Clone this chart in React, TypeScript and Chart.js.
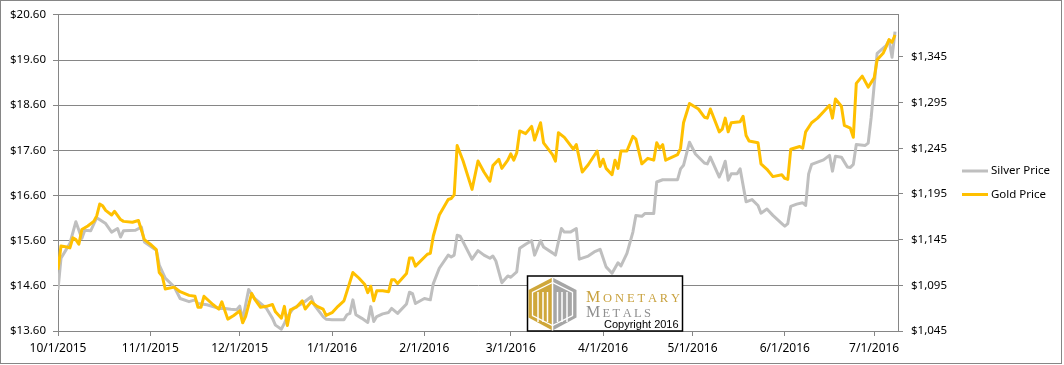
import { useEffect, useRef } from "react";
import { Chart, registerables } from "chart.js";

Chart.register(...registerables);

// Day offsets are counted from 10/1/2015
const monthTickDays = [0, 31, 61, 92, 123, 152, 183, 213, 244, 274];
const monthTickLabels = [
  "10/1/2015", "11/1/2015", "12/1/2015", "1/1/2016", "2/1/2016",
  "3/1/2016", "4/1/2016", "5/1/2016", "6/1/2016", "7/1/2016",
];
const silverTicks = [13.6, 14.6, 15.6, 16.6, 17.6, 18.6, 19.6, 20.6];
const goldTicks = [1045, 1095, 1145, 1195, 1245, 1295, 1345];

const silverDays = [
  0, 1, 4, 6, 8, 9, 11, 13, 16, 18, 20, 21, 22, 26, 28, 29, 33, 34, 36, 39, 41, 44, 46, 47, 50,
  54, 56, 58, 60, 61, 62, 64, 66, 68, 70, 72, 73, 75, 76, 77, 79, 82, 85, 86, 89, 90, 92, 96, 97,
  98, 99, 100, 102, 104, 105, 106, 107, 109, 111, 112, 114, 117, 118, 119, 120, 123, 125, 126,
  128, 131, 132, 133, 134, 135, 139, 141, 143, 145, 146, 147, 149, 151, 152, 154, 155, 157, 159,
  160, 162, 163, 166, 167, 169, 170, 172, 174, 175, 178, 180, 182, 184, 186, 188, 189, 191, 193,
  194, 196, 197, 200, 201, 203, 208, 209, 210, 212, 214, 217, 218, 219, 222, 223, 224, 225, 226,
  228, 229, 231, 233, 235, 236, 238, 240, 243, 244, 245, 246, 248, 250, 251, 252, 253, 255, 257,
  259, 260, 261, 263, 265, 266, 267, 268, 271, 272, 273, 275, 278, 279, 280, 281,
];
const silverPrices = [
  14.51, 15.21, 15.54, 16.02, 15.65, 15.83, 15.82, 16.11, 15.98, 15.79, 15.87, 15.68, 15.82, 15.83,
  15.9, 15.57, 15.39, 15.06, 14.77, 14.58, 14.32, 14.25, 14.29, 14.21, 14.18, 14.1, 14.1, 14.08,
  14.07, 14.15, 13.85, 14.52, 14.32, 14.21, 14.1, 13.88, 13.73, 13.64, 13.77, 13.92, 14.1, 14.21,
  14.36, 14.18, 13.92, 13.86, 13.85, 13.85, 13.96, 13.99, 14.29, 13.96, 13.88, 13.79, 14.14, 13.81,
  13.92, 13.98, 14.01, 14.1, 13.99, 14.2, 14.46, 14.43, 14.21, 14.32, 14.29, 14.65, 14.99, 15.28,
  15.24, 15.28, 15.72, 15.7, 15.19, 15.38, 15.28, 15.21, 15.26, 15.15, 14.67, 14.82, 14.79, 14.91,
  15.43, 15.52, 15.6, 15.28, 15.6, 15.46, 15.33, 15.28, 15.87, 15.79, 15.79, 15.87, 15.19, 15.26,
  15.35, 15.41, 15.02, 14.88, 15.11, 15.04, 15.32, 15.79, 16.16, 16.14, 16.2, 16.2, 16.9, 16.95,
  16.95, 17.19, 17.27, 17.78, 17.52, 17.32, 17.3, 17.45, 17.01, 17.16, 17.36, 16.94, 17.08, 17.08,
  17.19, 16.46, 16.51, 16.38, 16.21, 16.3, 16.16, 15.98, 15.92, 15.98, 16.36, 16.41, 16.44, 16.38,
  17.08, 17.29, 17.34, 17.39, 17.49, 17.14, 17.47, 17.45, 17.23, 17.22, 17.29, 17.73, 17.71, 17.76,
  18.33, 19.75, 19.92, 20.04, 19.66, 20.23,
];

const goldDays = [
  0, 1, 3, 4, 5, 6, 7, 8, 10, 12, 13, 14, 15, 16, 18, 19, 21, 22, 25, 27, 29, 31, 33, 34, 35, 36,
  39, 41, 44, 46, 47, 48, 49, 52, 54, 55, 57, 59, 61, 62, 63, 65, 66, 68, 70, 72, 73, 75, 76, 77,
  78, 80, 82, 83, 85, 87, 89, 90, 92, 94, 96, 99, 101, 103, 104, 105, 106, 107, 109, 111, 112, 113,
  114, 117, 118, 119, 120, 124, 125, 126, 128, 131, 132, 133, 134, 136, 139, 141, 143, 145, 146,
  148, 149, 151, 152, 153, 154, 155, 157, 159, 160, 162, 163, 166, 167, 168, 170, 173, 174, 176,
  178, 181, 182, 183, 184, 186, 187, 188, 189, 191, 193, 194, 196, 198, 200, 201, 202, 203, 204,
  208, 209, 210, 212, 215, 217, 218, 219, 222, 223, 224, 225, 226, 229, 230, 231, 232, 235, 236,
  238, 240, 243, 244, 245, 246, 249, 250, 251, 253, 255, 257, 259, 260, 261, 263, 264, 266, 267,
  268, 270, 272, 274, 275, 277, 278, 279, 280, 281,
];
const goldPrices = [
  1112, 1138, 1137, 1136, 1147, 1145, 1140, 1156, 1160, 1165, 1171, 1184, 1182, 1177, 1172, 1176,
  1167, 1165, 1164, 1166, 1145, 1140, 1134, 1109, 1105, 1091, 1093, 1088, 1084, 1083, 1071, 1071,
  1083, 1074, 1069, 1077, 1058, 1062, 1067, 1054, 1061, 1086, 1080, 1071, 1072, 1074, 1066, 1059,
  1072, 1051, 1068, 1071, 1078, 1069, 1077, 1072, 1069, 1062, 1065, 1072, 1078, 1109, 1103, 1096,
  1087, 1094, 1078, 1089, 1089, 1088, 1101, 1101, 1097, 1108, 1125, 1125, 1116, 1129, 1130, 1149,
  1172, 1189, 1190, 1194, 1248, 1231, 1200, 1231, 1219, 1209, 1226, 1233, 1223, 1232, 1239, 1232,
  1240, 1264, 1261, 1269, 1254, 1273, 1251, 1238, 1231, 1262, 1257, 1244, 1249, 1219, 1227, 1242,
  1225, 1233, 1223, 1216, 1232, 1223, 1242, 1242, 1258, 1255, 1228, 1234, 1232, 1251, 1245, 1249,
  1232, 1238, 1245, 1273, 1294, 1288, 1279, 1278, 1288, 1263, 1266, 1278, 1263, 1273, 1274, 1280,
  1259, 1253, 1251, 1228, 1222, 1214, 1216, 1212, 1211, 1244, 1247, 1245, 1263, 1273, 1278, 1285,
  1292, 1278, 1299, 1291, 1270, 1267, 1257, 1316, 1324, 1312, 1322, 1342, 1349, 1356, 1364, 1361,
  1369,
];

const seriesNames = ["Silver Price", "Gold Price"];
const seriesColors = ["#BFBFBF", "#FFC000"];

const AXIS_GRAY = "#868686";
const FONT = "'Noto Sans', 'DejaVu Sans', sans-serif";

function spacedText(
  ctx: CanvasRenderingContext2D,
  parts: { text: string; font: string }[],
  x: number,
  y: number,
  targetWidth: number
) {
  const chars: { ch: string; font: string; w: number }[] = [];
  parts.forEach((p) => {
    ctx.font = p.font;
    for (const ch of p.text) chars.push({ ch, font: p.font, w: ctx.measureText(ch).width });
  });
  const total = chars.reduce((s, c) => s + c.w, 0);
  const gap = (targetWidth - total) / (chars.length - 1);
  let cx = x;
  chars.forEach((c) => {
    ctx.font = c.font;
    ctx.fillText(c.ch, cx, y);
    cx += c.w + gap;
  });
}

const decorPlugin = {
  id: "decor",
  beforeDraw(chart: any) {
    const ctx: CanvasRenderingContext2D = chart.ctx;
    ctx.save();
    ctx.fillStyle = "#ffffff";
    ctx.fillRect(0, 0, chart.width, chart.height);
    ctx.strokeStyle = AXIS_GRAY;
    ctx.lineWidth = 1;
    ctx.strokeRect(0.5, 0.5, 1061, 363);
    ctx.restore();
  },
  afterDraw(chart: any) {
    const ctx: CanvasRenderingContext2D = chart.ctx;
    ctx.save();
    // Legend
    const legendY = [171, 194.5];
    seriesNames.forEach((name, i) => {
      ctx.strokeStyle = seriesColors[i];
      ctx.lineWidth = 3;
      ctx.beginPath();
      ctx.moveTo(962, legendY[i]);
      ctx.lineTo(988, legendY[i]);
      ctx.stroke();
      ctx.fillStyle = "#000";
      ctx.font = `11.5px ${FONT}`;
      ctx.textAlign = "left";
      ctx.textBaseline = "middle";
      ctx.fillText(name, 991, legendY[i]);
    });

    // Watermark logo box
    const bx = 527.5, by = 276, bw = 155, bh = 55;
    ctx.fillStyle = "#fff";
    ctx.fillRect(bx, by, bw, bh);
    ctx.strokeStyle = "#000";
    ctx.lineWidth = 1.5;
    ctx.strokeRect(bx, by, bw, bh);

    const cx = 552.5, top = 277.5, bot = 330.5, lx = 528.5, rx = 576.5, s1 = 290, s2 = 317.5;
    ctx.fillStyle = "#CFA73A";
    ctx.beginPath();
    ctx.moveTo(cx, top); ctx.lineTo(lx, s1); ctx.lineTo(lx, s2); ctx.lineTo(cx, bot); ctx.closePath();
    ctx.fill();
    ctx.fillStyle = "#A6A6A6";
    ctx.beginPath();
    ctx.moveTo(cx, top); ctx.lineTo(rx, s1); ctx.lineTo(rx, s2); ctx.lineTo(cx, bot); ctx.closePath();
    ctx.fill();
    ctx.strokeStyle = "#fff";
    ctx.lineWidth = 1.3;
    ctx.beginPath();
    ctx.moveTo(cx, top + 5); ctx.lineTo(lx + 4, s1 + 2.5); ctx.lineTo(lx + 4, s2 - 2);
    ctx.lineTo(cx, bot - 5); ctx.lineTo(rx - 4, s2 - 2); ctx.lineTo(rx - 4, s1 + 2.5); ctx.closePath();
    ctx.stroke();
    ctx.lineWidth = 1.5;
    [cx, 538, 543, 547.5, 557.5, 562, 567].forEach((vx) => {
      ctx.beginPath();
      ctx.moveTo(vx, vx === cx ? top : 292);
      ctx.lineTo(vx, vx === cx ? bot : 322);
      ctx.stroke();
    });

    ctx.textAlign = "left";
    ctx.textBaseline = "alphabetic";
    ctx.fillStyle = "#C9A23F";
    spacedText(
      ctx,
      [
        { text: "M", font: "16px 'Liberation Serif', serif" },
        { text: "ONETARY", font: "12.5px 'Liberation Serif', serif" },
      ],
      586, 301.5, 94
    );
    ctx.fillStyle = "#8F8F8F";
    spacedText(
      ctx,
      [
        { text: "M", font: "16px 'Liberation Serif', serif" },
        { text: "ETALS", font: "12.5px 'Liberation Serif', serif" },
      ],
      586, 316.5, 65
    );
    ctx.fillStyle = "#000";
    ctx.font = "11px 'Liberation Sans', Arial, sans-serif";
    ctx.fillText("Copyright 2016", 604, 328);
    ctx.restore();
  },
};

export default function App() {
  const ref = useRef<HTMLCanvasElement>(null);

  useEffect(() => {
    document.body.style.margin = "0";
    const canvas = ref.current;
    if (!canvas) return;

    const chart = new Chart(canvas, {
      type: "line",
      data: {
        datasets: [
          {
            label: seriesNames[0],
            data: silverDays.map((d, i) => ({ x: d, y: silverPrices[i] })),
            yAxisID: "ySilver",
            borderColor: seriesColors[0],
            borderWidth: 3,
            pointRadius: 0,
            tension: 0,
            borderJoinStyle: "round",
            order: 1,
          },
          {
            label: seriesNames[1],
            data: goldDays.map((d, i) => ({ x: d, y: goldPrices[i] })),
            yAxisID: "yGold",
            borderColor: seriesColors[1],
            borderWidth: 3,
            pointRadius: 0,
            tension: 0,
            borderJoinStyle: "round",
            order: 0,
          },
        ],
      },
      options: {
        animation: false,
        responsive: false,
        devicePixelRatio: 1,
        layout: { padding: { top: 14, left: 0, right: 0, bottom: 0 } },
        plugins: { legend: { display: false }, tooltip: { enabled: false } },
        scales: {
          x: {
            type: "linear",
            min: 0,
            max: 282,
            afterBuildTicks: (scale: any) => {
              scale.ticks = monthTickDays.map((v) => ({ value: v }));
            },
            afterFit: (scale: any) => {
              scale.height = 34;
            },
            ticks: {
              autoSkip: false,
              maxRotation: 0,
              minRotation: 0,
              padding: 5,
              color: "#000",
              font: { family: FONT, size: 12 },
              callback: (_v: any, i: number) => monthTickLabels[i],
            },
            grid: { drawOnChartArea: false, tickLength: 5, color: AXIS_GRAY },
            border: { color: AXIS_GRAY },
          },
          ySilver: {
            type: "linear",
            position: "left",
            min: 13.6,
            max: 20.6,
            afterBuildTicks: (scale: any) => {
              scale.ticks = silverTicks.map((v) => ({ value: v }));
            },
            afterFit: (scale: any) => {
              scale.width = 58;
            },
            ticks: {
              padding: 7,
              color: "#000",
              font: { family: FONT, size: 11.5 },
              callback: (v: any) => "$" + Number(v).toFixed(2),
            },
            grid: { tickLength: 5, color: AXIS_GRAY },
            border: { color: AXIS_GRAY },
          },
          yGold: {
            type: "linear",
            position: "right",
            min: 1045,
            max: 1391,
            afterBuildTicks: (scale: any) => {
              scale.ticks = goldTicks.map((v) => ({ value: v }));
            },
            afterFit: (scale: any) => {
              scale.width = 166;
            },
            ticks: {
              padding: 8,
              color: "#000",
              font: { family: FONT, size: 11.5 },
              callback: (v: any) => "$" + Number(v).toLocaleString("en-US"),
            },
            grid: { drawOnChartArea: false, tickLength: 5, color: AXIS_GRAY },
            border: { color: AXIS_GRAY },
          },
        },
      },
      plugins: [decorPlugin],
    } as any);

    return () => chart.destroy();
  }, []);

  return (
    <canvas
      ref={ref}
      width={1064}
      height={365}
      style={{ display: "block", width: "1064px", height: "365px" }}
    />
  );
}
